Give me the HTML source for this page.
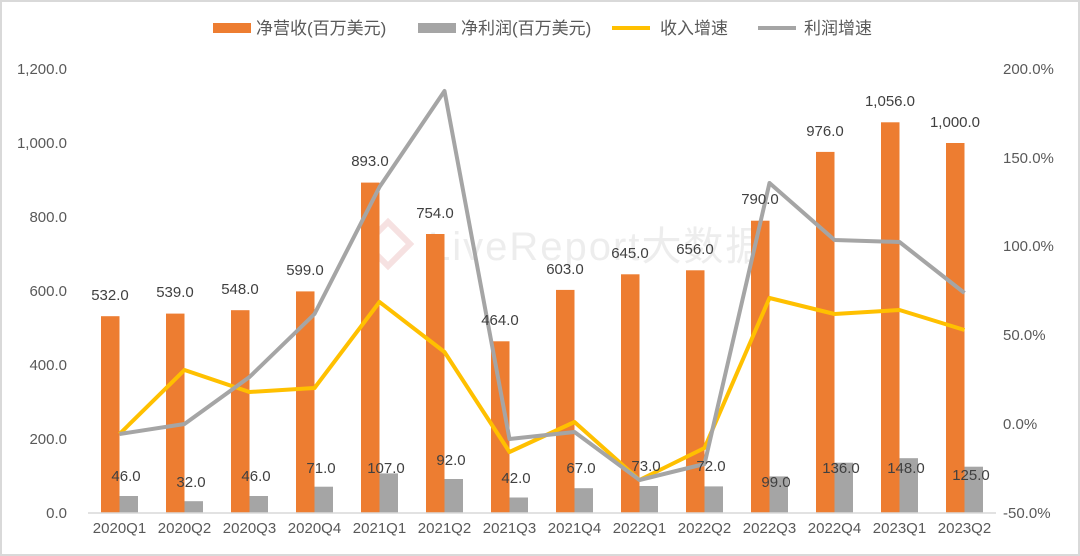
<!DOCTYPE html>
<html><head><meta charset="utf-8"><style>
html,body{margin:0;padding:0;background:#fff}
svg{display:block;font-family:"Liberation Sans","Noto Sans CJK SC",sans-serif}
</style></head><body>
<svg width="1080" height="556" viewBox="0 0 1080 556" xmlns="http://www.w3.org/2000/svg">
<rect x="1" y="1" width="1078" height="554" fill="#fff" stroke="#d9d9d9" stroke-width="2"/>
<g opacity="0.9">
<path d="M388 222 L410 244 L388 266 L366 244 Z" fill="none" stroke="#f6dede" stroke-width="6"/>
<text x="428" y="260" font-size="40" fill="#ececec" letter-spacing="2">LiveReport大数据</text>
</g>
<g font-size="17" fill="#595959">
<rect x="213" y="23" width="38" height="10" fill="#ED7D31"/><text x="256" y="34">净营收(百万美元)</text>
<rect x="418" y="23" width="38" height="10" fill="#A5A5A5"/><text x="461" y="34">净利润(百万美元)</text>
<line x1="612" y1="28" x2="650" y2="28" stroke="#FFC000" stroke-width="4"/><text x="660" y="34">收入增速</text>
<line x1="758" y1="28" x2="796" y2="28" stroke="#A5A5A5" stroke-width="4"/><text x="804" y="34">利润增速</text>
</g>
<g font-size="15" fill="#595959" text-anchor="end">
<text x="67" y="74">1,200.0</text><text x="67" y="148">1,000.0</text><text x="67" y="222">800.0</text>
<text x="67" y="296">600.0</text><text x="67" y="370">400.0</text><text x="67" y="444">200.0</text><text x="67" y="518">0.0</text>
</g>
<g font-size="15" fill="#595959">
<text x="1003" y="74">200.0%</text><text x="1003" y="163">150.0%</text><text x="1003" y="251">100.0%</text>
<text x="1003" y="340">50.0%</text><text x="1003" y="429">0.0%</text><text x="1003" y="518">-50.0%</text>
</g>
<g fill="#ED7D31">
<rect x="101" y="316.2" width="18.5" height="196.8"/>
<rect x="166" y="313.6" width="18.5" height="199.4"/>
<rect x="231" y="310.2" width="18.5" height="202.8"/>
<rect x="296" y="291.4" width="18.5" height="221.6"/>
<rect x="361" y="182.6" width="18.5" height="330.4"/>
<rect x="426" y="234" width="18.5" height="279"/>
<rect x="491" y="341.3" width="18.5" height="171.7"/>
<rect x="556" y="289.9" width="18.5" height="223.1"/>
<rect x="621" y="274.3" width="18.5" height="238.7"/>
<rect x="686" y="270.3" width="18.5" height="242.7"/>
<rect x="751" y="220.7" width="18.5" height="292.3"/>
<rect x="816" y="151.9" width="18.5" height="361.1"/>
<rect x="881" y="122.3" width="18.5" height="390.7"/>
<rect x="946" y="143" width="18.5" height="370"/>
</g>
<g fill="#A5A5A5">
<rect x="119.5" y="496" width="18.5" height="17"/>
<rect x="184.5" y="501.2" width="18.5" height="11.8"/>
<rect x="249.5" y="496" width="18.5" height="17"/>
<rect x="314.5" y="486.7" width="18.5" height="26.3"/>
<rect x="379.5" y="473.4" width="18.5" height="39.6"/>
<rect x="444.5" y="479" width="18.5" height="34"/>
<rect x="509.5" y="497.5" width="18.5" height="15.5"/>
<rect x="574.5" y="488.2" width="18.5" height="24.8"/>
<rect x="639.5" y="486" width="18.5" height="27"/>
<rect x="704.5" y="486.4" width="18.5" height="26.6"/>
<rect x="769.5" y="476.4" width="18.5" height="36.6"/>
<rect x="834.5" y="462.7" width="18.5" height="50.3"/>
<rect x="899.5" y="458.2" width="18.5" height="54.8"/>
<rect x="964.5" y="466.7" width="18.5" height="46.3"/>
</g>
<line x1="88" y1="513" x2="996" y2="513" stroke="#d9d9d9" stroke-width="1.5"/>
<polyline points="119.5,434 184.5,370 249.5,392 314.5,388 379.5,302 444.5,352 509.5,452 574.5,422 639.5,480 704.5,448 769.5,298 834.5,314 899.5,310 964.5,330" fill="none" stroke="#FFC000" stroke-width="4" stroke-linejoin="round"/>
<polyline points="119.5,434 184.5,424 249.5,377 314.5,314 379.5,187 444.5,91 509.5,439 574.5,432 639.5,480 704.5,464 769.5,183 834.5,240 899.5,242 964.5,293" fill="none" stroke="#A5A5A5" stroke-width="4" stroke-linejoin="round"/>
<g font-size="15" fill="#404040" text-anchor="middle">
<text x="110" y="300">532.0</text>
<text x="175" y="297">539.0</text>
<text x="240" y="294">548.0</text>
<text x="305" y="275">599.0</text>
<text x="370" y="166">893.0</text>
<text x="435" y="218">754.0</text>
<text x="500" y="325">464.0</text>
<text x="565" y="274">603.0</text>
<text x="630" y="258">645.0</text>
<text x="695" y="254">656.0</text>
<text x="760" y="204">790.0</text>
<text x="825" y="136">976.0</text>
<text x="890" y="106">1,056.0</text>
<text x="955" y="127">1,000.0</text>
</g>
<g font-size="15" fill="#404040" text-anchor="middle">
<text x="126" y="481">46.0</text>
<text x="191" y="487">32.0</text>
<text x="256" y="481">46.0</text>
<text x="321" y="473">71.0</text>
<text x="386" y="473">107.0</text>
<text x="451" y="465">92.0</text>
<text x="516" y="483">42.0</text>
<text x="581" y="473">67.0</text>
<text x="646" y="471">73.0</text>
<text x="711" y="471">72.0</text>
<text x="776" y="487">99.0</text>
<text x="841" y="473">136.0</text>
<text x="906" y="473">148.0</text>
<text x="971" y="480">125.0</text>
</g>
<g font-size="15" fill="#595959" text-anchor="middle">
<text x="119.5" y="533">2020Q1</text><text x="184.5" y="533">2020Q2</text><text x="249.5" y="533">2020Q3</text>
<text x="314.5" y="533">2020Q4</text><text x="379.5" y="533">2021Q1</text><text x="444.5" y="533">2021Q2</text>
<text x="509.5" y="533">2021Q3</text><text x="574.5" y="533">2021Q4</text><text x="639.5" y="533">2022Q1</text>
<text x="704.5" y="533">2022Q2</text><text x="769.5" y="533">2022Q3</text><text x="834.5" y="533">2022Q4</text>
<text x="899.5" y="533">2023Q1</text><text x="964.5" y="533">2023Q2</text>
</g>
</svg>
</body></html>
